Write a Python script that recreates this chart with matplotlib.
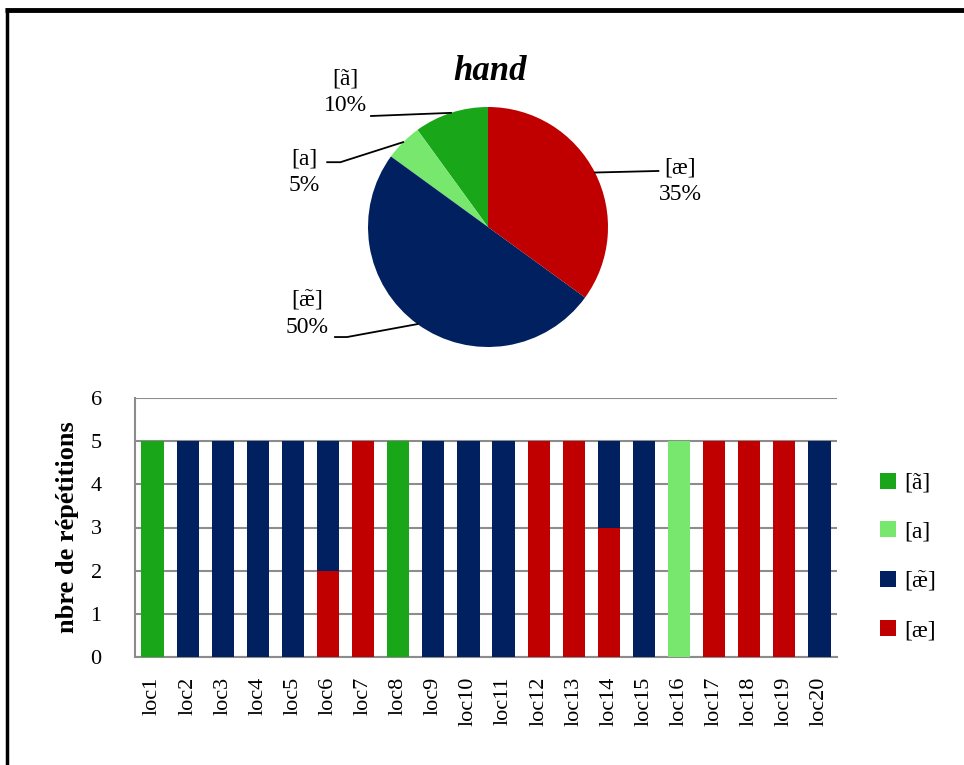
import numpy as np
import matplotlib
matplotlib.use("Agg")
import matplotlib.pyplot as plt
from matplotlib.lines import Line2D
from matplotlib.patches import Patch

plt.rcParams["font.family"] = ["Liberation Serif", "DejaVu Serif"]
plt.rcParams["mathtext.fontset"] = "custom"
plt.rcParams["mathtext.rm"] = "Liberation Serif"

# data
title = "hand"
locations = [f"loc{i}" for i in range(1, 21)]
series_labels = ["[ã]", "[a]", r"[$\mathrm{\tilde{æ}}$]", "[æ]"]
series_colors = ["#19A619", "#77E86D", "#00205F", "#C00000"]
counts_a_tilde = [5, 0, 0, 0, 0, 0, 0, 5, 0, 0, 0, 0, 0, 0, 0, 0, 0, 0, 0, 0]
counts_a = [0, 0, 0, 0, 0, 0, 0, 0, 0, 0, 0, 0, 0, 0, 0, 5, 0, 0, 0, 0]
counts_ae_tilde = [0, 5, 5, 5, 5, 3, 0, 0, 5, 5, 5, 0, 0, 2, 5, 0, 0, 0, 0, 5]
counts_ae = [0, 0, 0, 0, 0, 2, 5, 0, 0, 0, 0, 5, 5, 3, 0, 0, 5, 5, 5, 0]
y_ticks = [0, 1, 2, 3, 4, 5, 6]
y_label = "nbre de répétitions"

series = [counts_a_tilde, counts_a, counts_ae_tilde, counts_ae]
totals = [sum(s) for s in series]

fig = plt.figure(figsize=(9.64, 7.65), dpi=100)

# frame lines
fig.add_artist(Line2D([5 / 964, 1], [1 - 10 / 765, 1 - 10 / 765], color="black", lw=3.5,
                      transform=fig.transFigure, solid_capstyle="butt"))
fig.add_artist(Line2D([7 / 964, 7 / 964], [0, 1 - 8 / 765], color="black", lw=2.5,
                      transform=fig.transFigure, solid_capstyle="butt"))

# ---- pie ----
cx, cy, r = 488, 227, 120
ax_pie = fig.add_axes([(cx - 2 * r) / 964, 1 - (cy + 1.5 * r) / 765, 4 * r / 964, 3 * r / 765])
wedges, _ = ax_pie.pie(totals, colors=series_colors, startangle=90, counterclock=True,
                       radius=1, wedgeprops=dict(linewidth=0))
ax_pie.set_xlim(-2, 2)
ax_pie.set_ylim(-1.5, 1.5)
ax_pie.set_aspect("auto")
ax_pie.axis("off")
ax_pie.text(0.02, 1.3, title, ha="center", va="center", fontsize=25,
            fontweight="bold", fontstyle="italic")

pct = [100 * t / sum(totals) for t in totals]
label_pos = [(-1.19, 1.12), (-1.53, 0.46), (-1.51, -0.72), (1.6, 0.38)]
line_start = [[(-0.975, 0.925)], [(-1.34, 0.54), (-1.23, 0.54)],
              [(-1.275, -0.917), (-1.175, -0.917)], [(1.42, 0.467)]]
for w, lab, p, pos, pts in zip(wedges, series_labels, pct, label_pos, line_start):
    mid = np.deg2rad((w.theta1 + w.theta2) / 2)
    edge = (np.cos(mid), np.sin(mid))
    xs = [q[0] for q in pts] + [edge[0]]
    ys = [q[1] for q in pts] + [edge[1]]
    ax_pie.plot(xs, ys, color="black", lw=1.3)
    ax_pie.text(pos[0], pos[1], f"{lab}\n{p:.0f}%", ha="center", va="center",
                fontsize=17, linespacing=1.35)

# ---- stacked bars ----
ax = fig.add_axes([135 / 964, 1 - 657 / 765, 702 / 964, 259 / 765])
x = np.arange(len(locations))
width = 0.63
bottom = np.zeros(len(locations))
# stack from bottom: [æ], [æ̃], [a], [ã]
for vals, col in zip(series[::-1], series_colors[::-1]):
    ax.bar(x, vals, width, bottom=bottom, color=col, linewidth=0, zorder=3)
    bottom += np.array(vals)

ax.set_xlim(-0.5, len(locations) - 0.5)
ax.set_ylim(0, 6)
ax.set_yticks(y_ticks)
ax.set_xticks(x)
ax.set_xticklabels(locations, rotation=90, fontsize=16)
ax.tick_params(axis="y", length=0, pad=24, labelsize=16)
ax.tick_params(axis="x", length=0, pad=14)
ax.yaxis.grid(True, color="#8c8c8c", lw=1.5, zorder=0)
for s in ["top", "right"]:
    ax.spines[s].set_visible(False)
for s in ["left", "bottom"]:
    ax.spines[s].set_color("#8c8c8c")
    ax.spines[s].set_linewidth(1.5)
ax.set_ylabel(y_label, fontsize=19, fontweight="bold")
ax.yaxis.set_label_coords(-0.08, 0.5)

handles = [Patch(facecolor=c, edgecolor="none") for c in series_colors]
fig.legend(handles, series_labels, loc="center left",
           bbox_to_anchor=(859 / 964, 1 - 557 / 765), frameon=False, fontsize=17,
           labelspacing=1.15, handlelength=0.68, handleheight=0.68, handletextpad=0.34)

fig.savefig("out.png", dpi=100)
